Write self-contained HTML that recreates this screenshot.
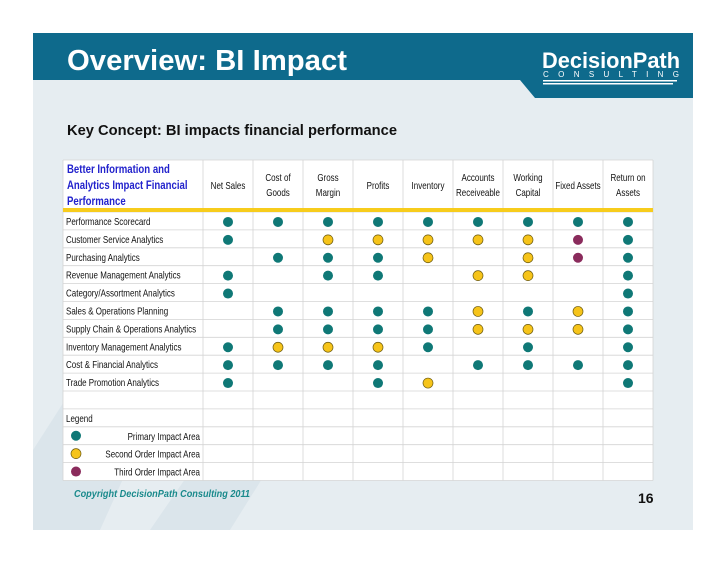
<!DOCTYPE html>
<html><head><meta charset="utf-8">
<style>
body{margin:0;width:728px;height:563px;background:#fff;overflow:hidden;font-family:"Liberation Sans",sans-serif}
svg{position:absolute;left:0;top:0}
svg text{font-family:"Liberation Sans",Arial,sans-serif}
</style></head><body>
<svg width="728" height="563">
<rect x="33" y="33" width="660" height="497" fill="#e6edf1"/>
<polygon points="33,530 33,450 110,330 190,330 100,530" fill="#dbe5eb"/>
<polygon points="150,530 260,370 330,370 230,530" fill="#dbe5eb"/>
<polygon points="33,33 693,33 693,98 535,98 520,80 33,80" fill="#0e6a8c"/>
<text x="67" y="70" font-size="29" font-weight="bold" fill="#fff" textLength="280" lengthAdjust="spacingAndGlyphs">Overview: BI Impact</text>
<text x="542" y="68" font-size="22" font-weight="bold" fill="#fff" textLength="138" lengthAdjust="spacingAndGlyphs">DecisionPath</text>
<text x="543" y="77" font-size="8" fill="#fff" textLength="136">CONSULTING</text>
<rect x="543" y="80" width="134" height="1.5" fill="#fff"/>
<rect x="543" y="83" width="130" height="1.5" fill="#fff"/>
<text x="67" y="135" font-size="14.5" font-weight="bold" fill="#111" textLength="330" lengthAdjust="spacingAndGlyphs">Key Concept: BI impacts financial performance</text>
<g id="tbl"></g>
<text x="74" y="497" font-size="10" font-weight="bold" font-style="italic" fill="#1a8a8c" textLength="176" lengthAdjust="spacingAndGlyphs">Copyright DecisionPath Consulting 2011</text>
<text x="638" y="503" font-size="14" font-weight="bold" fill="#111">16</text>
</svg>
<script>
const columns=[["Net Sales"],["Cost of","Goods"],["Gross","Margin"],["Profits"],["Inventory"],["Accounts","Receiveable"],["Working","Capital"],["Fixed Assets"],["Return on","Assets"]];
const rowLabels=["Performance Scorecard","Customer Service Analytics","Purchasing Analytics","Revenue Management Analytics","Category/Assortment Analytics","Sales & Operations Planning","Supply Chain & Operations Analytics","Inventory Management Analytics","Cost & Financial Analytics","Trade Promotion Analytics"];
const impacts=[
"PPPPPPPPP",
"P-SSSSSTP",
"-PPPS-STP",
"P-PP-SS-P",
"P-------P",
"-PPPPSPSP",
"-PPPPSSSP",
"PSSSP-P-P",
"PPPP-PPPP",
"P--PS---P"];
const legendItems=[["P","Primary Impact Area"],["S","Second Order Impact Area"],["T","Third Order Impact Area"]];
const NS="http://www.w3.org/2000/svg";
const g=document.getElementById('tbl');
const X0=63,X1=203,CW=50,HT=160,HB=210,RY=212,RH=17.9,SX=0.8;
const colX=i=>X1+CW*i, rowY=i=>RY+RH*i;
const fills={P:"#0f7876",S:"#f6c41a",T:"#8a2b5c"};
function el(t,a,p){const e=document.createElementNS(NS,t);for(const k in a)e.setAttribute(k,a[k]);(p||g).appendChild(e);return e;}
function ntext(x,y,s,attrs){const a=Object.assign({x:0,y:0,'font-size':10,fill:'#111','font-family':'Liberation Sans, Arial, sans-serif',transform:`translate(${x},${y}) scale(${SX},1)`},attrs||{});const t=el('text',a);t.textContent=s;return t;}
const totalRows=rowLabels.length+2+legendItems.length;
const bottom=rowY(totalRows);
const bg=el('rect',{x:X0,y:HT,width:colX(columns.length)-X0,height:bottom-HT,fill:'#fff'});


for(let i=0;i<=columns.length;i++){const l=el('line',{x1:colX(i),x2:colX(i),y1:HT,y2:bottom,stroke:'#d4d4d4','stroke-width':0.8});

}
const l0=el('line',{x1:X0,x2:X0,y1:HT,y2:bottom,stroke:'#d4d4d4','stroke-width':0.8});


for(let r=0;r<=totalRows;r++){const l=el('line',{x1:X0,x2:colX(columns.length),y1:rowY(r),y2:rowY(r),stroke:'#d4d4d4','stroke-width':0.8});

}
const lt=el('line',{x1:X0,x2:colX(columns.length),y1:HT,y2:HT,stroke:'#d4d4d4','stroke-width':0.8});


const yb=el('rect',{x:X0,y:HB-2,width:colX(columns.length)-X0,height:4,fill:'#f7cc1c'});


["Better Information and","Analytics Impact Financial","Performance"].forEach((s,i)=>{const t=ntext(X0+4,173+16*i,s,{'font-size':12,'font-weight':'bold',fill:'#2222cc'});

});
columns.forEach((c,i)=>{const cx=colX(i)+CW/2;const y0=c.length==1?189:181;c.forEach((s,j)=>{const t=ntext(cx,y0+15*j,s,{'text-anchor':'middle'});

});});
rowLabels.forEach((s,r)=>{const t=ntext(X0+3,rowY(r)+13,s);


impacts[r].split('').forEach((v,c)=>{if(v==='-')return;const d=el('circle',{cx:colX(c)+CW/2,cy:rowY(r)+RH/2+1,r:5,fill:fills[v],stroke:v==='S'?'#6b5a10':'none','stroke-width':0.7});

});});
const lr=rowLabels.length+1;
const lg=ntext(X0+3,rowY(lr)+13,"Legend");


legendItems.forEach((it,i)=>{const y=rowY(lr+1+i);const d=el('circle',{cx:X0+13,cy:y+RH/2,r:5,fill:fills[it[0]],stroke:it[0]==='S'?'#6b5a10':'none','stroke-width':0.7});


const t=ntext(X1-3,y+13,it[1],{'text-anchor':'end'});

});
</script>
</body></html>
